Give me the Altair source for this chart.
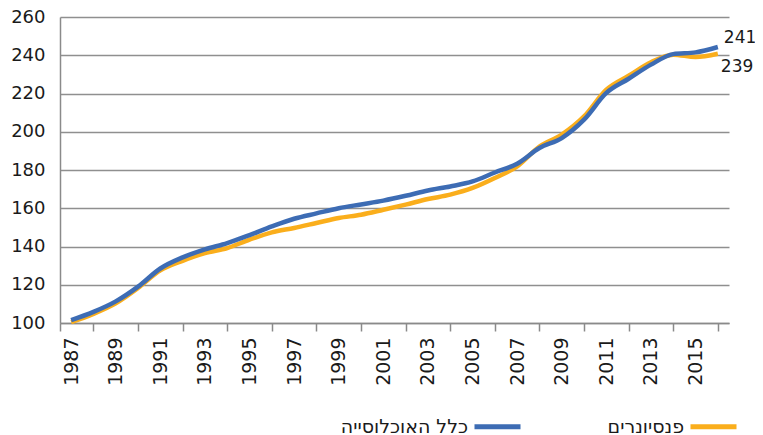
import altair as alt
import pandas as pd

years = list(range(1987, 2017))
series_names = ["כלל האוכלוסייה", "פנסיונרים"]
all_pop = [101.5, 105.8, 111.3, 119.0, 128.5, 134.3, 138.5, 141.8, 146.0, 150.5,
           154.5, 157.3, 160.0, 162.0, 164.0, 166.5, 169.3, 171.4, 174.0, 178.7,
           183.3, 191.5, 196.7, 206.3, 220.3, 227.7, 235.1, 240.6, 241.5, 244.3]
pensioners = [100.5, 104.8, 110.3, 118.3, 127.5, 132.5, 136.5, 139.2, 143.6, 147.4,
              149.7, 152.3, 154.9, 156.6, 159.2, 161.9, 164.8, 167.1, 170.6, 175.8,
              181.9, 192.3, 198.5, 208.0, 222.0, 229.3, 236.3, 240.3, 239.1, 240.8]
end_labels = ["241", "239"]
colors = ["#3D6CB4", "#FAAE1C"]
y_ticks = [100, 120, 140, 160, 180, 200, 220, 240, 260]
tick_years = [1986.5] + list(range(1988, 2017, 2))

rows = []
for name, vals in zip(series_names, [all_pop, pensioners]):
    for y, v in zip(years, vals):
        rows.append({"year": y, "value": v, "series": name})
df = pd.DataFrame(rows)

ends = pd.DataFrame({
    "year": [years[-1], years[-1]],
    "value": [all_pop[-1], pensioners[-1]],
    "label": end_labels,
    "series": series_names,
})

FONT = "DejaVu Sans"

x_enc = alt.X(
    "year:Q",
    scale=alt.Scale(domain=[1986.5, 2016.5], nice=False, zero=False),
    axis=alt.Axis(
        values=tick_years,
        labelExpr="datum.value < 1987 ? '' : '' + (datum.value - 1)",
        labelOffset=-22.3,
        labelAngle=-90,
        labelAlign="right",
        labelBaseline="middle",
        labelPadding=6,
        labelOverlap=False,
        tickSize=8,
        tickColor="#8a8a8a",
        tickWidth=1.5,
        domainColor="#8a8a8a",
        domainWidth=1.5,
        grid=False,
        title=None,
        labelFontSize=19,
        labelColor="#1a1a1a",
        labelFont=FONT,
    ),
)
y_enc = alt.Y(
    "value:Q",
    scale=alt.Scale(domain=[100, 260], nice=False, zero=False),
    axis=alt.Axis(
        values=y_ticks,
        tickCount=9,
        ticks=False,
        labelPadding=15,
        labelOverlap=False,
        labelSeparation=0,
        domainColor="#8a8a8a",
        domainWidth=1.5,
        grid=True,
        gridColor="#8f8f8f",
        gridWidth=1.5,
        title=None,
        labelFontSize=18,
        labelColor="#1a1a1a",
        labelFont=FONT,
    ),
)
color_enc = alt.Color(
    "series:N",
    scale=alt.Scale(domain=series_names, range=colors),
    legend=alt.Legend(
        orient="none",
        legendX=272,
        legendY=384,
        direction="horizontal",
        title=None,
        symbolType="stroke",
        symbolSize=2116,
        symbolStrokeWidth=5,
        labelAlign="right",
        labelOffset={"expr": "-55"},
        symbolOffset=140,
        columnPadding=17,
        labelLimit=400,
        labelFontSize=19,
        labelColor="#1a1a1a",
        labelFont=FONT,
    ),
)

base = alt.Chart(df)
orange_line = base.transform_filter(alt.datum.series == series_names[1]).mark_line(
    strokeWidth=4.5, interpolate="monotone"
).encode(x=x_enc, y=y_enc, color=color_enc)
blue_line = base.transform_filter(alt.datum.series == series_names[0]).mark_line(
    strokeWidth=4.5, interpolate="monotone"
).encode(x=x_enc, y=y_enc, color=color_enc)

lab_blue = alt.Chart(ends).transform_filter(alt.datum.series == series_names[0]).mark_text(
    align="left", baseline="middle", dx=6, dy=-9, fontSize=17, font=FONT, color="#1a1a1a"
).encode(x=x_enc, y=y_enc, text="label:N")
lab_orange = alt.Chart(ends).transform_filter(alt.datum.series == series_names[1]).mark_text(
    align="left", baseline="middle", dx=3, dy=13, fontSize=17, font=FONT, color="#1a1a1a"
).encode(x=x_enc, y=y_enc, text="label:N")

chart = alt.layer(orange_line, blue_line, lab_blue, lab_orange).properties(
    width=669,
    height=306,
    autosize=alt.AutoSizeParams(type="none"),
    padding={"left": 52, "top": 9, "right": 26, "bottom": 112},
    background="white",
).configure_view(stroke=None)

chart.save("out.html", embed_options={"renderer": "svg", "actions": False})
